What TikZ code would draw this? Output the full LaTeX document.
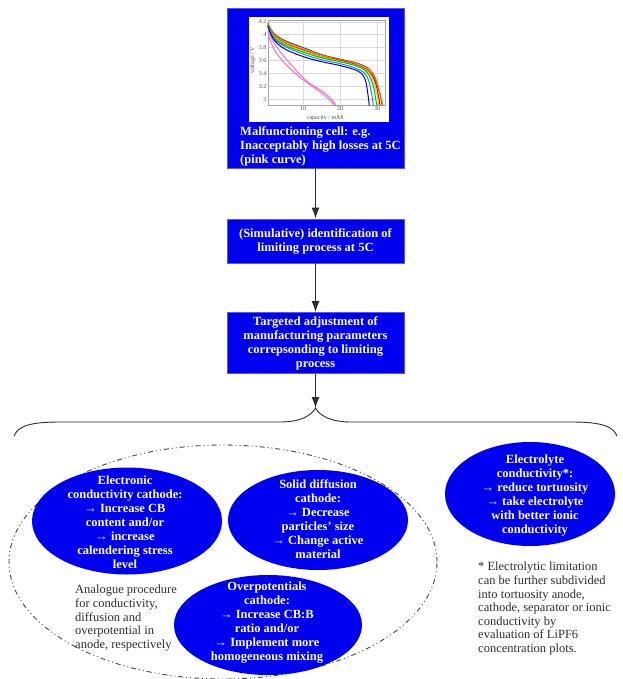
\documentclass[tikz,border=0pt]{standalone}
\usepackage{fontspec}
\setmainfont{Liberation Serif}
\usetikzlibrary{arrows.meta,shapes.geometric}
\definecolor{bblue}{RGB}{0,0,240}
\definecolor{bedge}{RGB}{90,90,215}
\definecolor{ink}{RGB}{45,45,45}
\definecolor{lnc}{RGB}{45,45,45}
\definecolor{pinkc}{RGB}{240,110,200}
\tikzset{
 bbox/.style={rectangle, fill=bblue, draw=bedge, line width=0.8pt, minimum width=177pt, inner sep=0pt},
 btext/.style={text=white, font=\fontsize{12.5}{14}\selectfont\bfseries, align=center, inner sep=0pt},
 bell/.style={ellipse, fill=bblue, inner sep=0pt},
 ntext/.style={text=ink, font=\fontsize{12.5}{13.6}\selectfont, align=left, inner sep=0pt},
 arr/.style={draw=lnc, line width=1pt, -{Latex[length=11pt,width=8pt]}},
 ticklbl/.style={font=\fontsize{6}{7}\selectfont, text=gray!60!black, inner sep=1pt},
 crv/.style={line width=1pt},
}
\begin{document}
\begin{tikzpicture}[x=1pt,y=-1pt]
\useasboundingbox (0,0) rectangle (622,679);
\fill[white] (0,0) rectangle (622,679);

% top box with plot
\node[bbox, minimum height=160pt] (b1) at (315.5,88) {};
\fill[white] (249,17) rectangle (389,122);
\begin{scope}[shift={(266,292.6)}, x=3.7pt, y=64.5pt]
  \foreach \c in {10,20,30} \draw[gray!30, line width=0.3pt] (\c,2.9) -- (\c,4.23);
  \foreach \v in {3,3.2,3.4,3.6,3.8,4,4.2} \draw[gray!30, line width=0.3pt] (0.5,\v) -- (32.2,\v);
  \draw[gray!70, line width=0.4pt] (0.5,2.9) rectangle (32.2,4.23);
  \foreach \v/\l in {3/3,3.2/3.2,3.4/3.4,3.6/3.6,3.8/3.8,4/4,4.2/4.2} \node[ticklbl, anchor=east] at (0.4,\v) {\l};
  \foreach \c in {10,20,30} \node[ticklbl, anchor=north] at (\c,2.9) {\c};
  \node[ticklbl, rotate=90] at (-3.6,3.6) {voltage / V};
  \node[ticklbl] at (16,2.71) {capacity / mAh};
  \draw[crv, gray!60!black] plot[smooth, tension=0.6] coordinates {(0.5,4.18) (2,4.03) (5,3.91) (10,3.8) (15,3.69) (20,3.62) (25,3.55) (28,3.46) (29.6,3.3) (30.7,3.1) (31.4,2.9)};
  \draw[crv, orange] plot[smooth, tension=0.6] coordinates {(0.5,4.17) (2,4.02) (5,3.89) (10,3.78) (15,3.68) (20,3.61) (25,3.54) (28.5,3.43) (30,3.26) (31,3.05) (31.6,2.9)};
  \draw[crv, red!85!black] plot[smooth, tension=0.6] coordinates {(0.5,4.16) (2,4.0) (5,3.87) (10,3.76) (15,3.66) (20,3.6) (25,3.52) (28,3.42) (29.6,3.25) (30.5,3.02) (30.8,2.9)};
  \draw[crv, yellow!70!olive] plot[smooth, tension=0.6] coordinates {(0.5,4.155) (2,3.99) (5,3.86) (10,3.75) (15,3.655) (20,3.59) (25,3.51) (27.8,3.41) (29.3,3.22) (30.2,3.0) (30.4,2.9)};
  \draw[crv, green!75!black] plot[smooth, tension=0.6] coordinates {(0.5,4.15) (2,3.97) (5,3.84) (10,3.73) (15,3.64) (20,3.58) (25,3.5) (27.5,3.4) (29,3.2) (29.8,2.95) (30,2.9)};
  \draw[crv, cyan!80!blue] plot[smooth, tension=0.6] coordinates {(0.5,4.14) (2,3.95) (5,3.82) (10,3.7) (15,3.61) (20,3.55) (25,3.46) (27.3,3.35) (28.5,3.1) (29,2.9)};
  \draw[crv, blue!80!black] plot[smooth, tension=0.6] coordinates {(0.5,4.13) (2,3.93) (5,3.78) (10,3.66) (15,3.58) (20,3.52) (25,3.43) (26.8,3.3) (27.6,3.05) (27.9,2.9)};
  \draw[crv, pinkc] plot[smooth, tension=0.6] coordinates {(0.5,4.05) (3,3.8) (7,3.52) (11,3.28) (15,3.13) (17.5,3.01) (18.9,2.9)};
  \draw[crv, pinkc] plot[smooth, tension=0.6] coordinates {(0.7,3.98) (2.5,3.74) (6,3.5) (10,3.3) (14,3.14) (17,3.0) (18.5,2.9)};
\end{scope}
\node[btext, align=left, anchor=west] (t1) at (240,146) {Malfunctioning cell: e.g.\\Inacceptably high losses at 5C\\(pink curve)};

\node[bbox, btext, minimum height=44pt] (b2) at (315.5,241) {(Simulative) identification of\\limiting process at 5C};
\node[bbox, btext, minimum height=61pt] (b3) at (315.5,343) {Targeted adjustment of\\manufacturing parameters\\correpsonding to limiting\\process};

\coordinate (tip) at (315.5,408);
\draw[arr] (b1) -- (b2);
\draw[arr] (b2) -- (b3);
\draw[arr] (b3) -- (tip);

% brace
\draw[draw=lnc, line width=0.9pt] (14,436) .. controls (18,426) and (30,422) .. (60,422) -- (280,422) .. controls (300,422) and (311,416) .. (tip) .. controls (320,416) and (331,422) .. (351,422) -- (571,422) .. controls (601,422) and (613,426) .. (617,436);

% dash-dot grouping ellipse
\draw[draw=gray!55!black, line width=0.9pt, dash pattern=on 5pt off 3pt on 1pt off 3pt on 1pt off 3pt] (223,562) ellipse [x radius=214pt, y radius=117pt];

% blue ellipses
\node[bell, minimum width=190pt, minimum height=107pt] (e1) at (127,521) {};
\node[btext] (e1t) at (125,522) {Electronic\\conductivity cathode:\\→ Increase CB\\content and/or\\→ increase\\calendering stress\\level};

\node[bell, minimum width=180pt, minimum height=100pt] (e2) at (318,520) {};
\node[btext] (e2t) at (318,519) {Solid diffusion\\cathode:\\→ Decrease\\particles’ size\\→ Change active\\material};

\node[bell, minimum width=188pt, minimum height=100pt] (e3) at (268,625) {};
\node[btext] (e3t) at (267,623) {Overpotentials\\cathode:\\→ Increase CB:B\\ratio and/or\\→ Implement more\\homogeneous mixing};

\node[bell, minimum width=170pt, minimum height=104pt] (e4) at (530,494) {};
\node[btext] (e4t) at (535,496) {Electrolyte\\conductivity*:\\→ reduce tortuosity\\→ take electrolyte\\with better ionic\\conductivity};

% plain notes
\node[ntext, anchor=north west] (n1) at (75,585) {Analogue procedure\\for conductivity,\\diffusion and\\overpotential in\\anode, respectively};
\node[ntext, anchor=north west] (n2) at (478,562) {* Electrolytic limitation\\can be further subdivided\\into tortuosity anode,\\cathode, separator or ionic\\conductivity by\\evaluation of LiPF6\\concentration plots.};
\end{tikzpicture}
\end{document}
